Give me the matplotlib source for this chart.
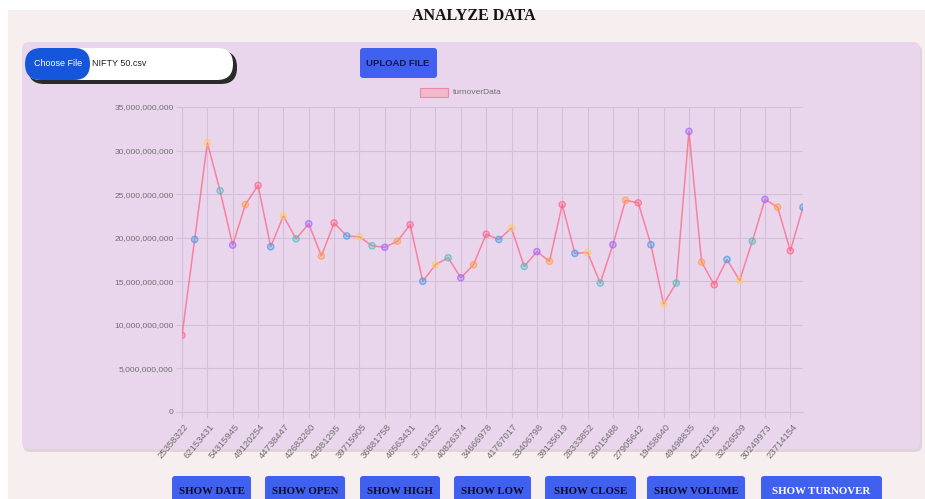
import numpy as np
import matplotlib
matplotlib.use('Agg')
import matplotlib.pyplot as plt
from matplotlib.patches import FancyBboxPatch
from matplotlib.transforms import IdentityTransform, offset_copy
from matplotlib.ticker import FuncFormatter

W, H = 925, 499

# shown x labels (Chart.js skips every other one)
tick_labels = ['25358322', '62153431', '54315945', '49120254', '44738447',
               '42683260', '42981295', '39715905', '36881758', '46563431',
               '37161352', '40826374', '34666978', '41767017', '33406798',
               '39135619', '28333852', '26015488', '27905642', '19458640',
               '49498835', '42276125', '32426509', '30249973', '23714154']

# turnover, in billions
turnover_bn = [8.8, 19.8, 30.9, 25.4, 19.15, 23.8, 26.0, 18.96, 22.5, 19.87,
               21.6, 17.9, 21.7, 20.2, 20.1, 19.07, 18.9, 19.6, 21.5, 15.0,
               16.9, 17.7, 15.4, 16.9, 20.4, 19.8, 21.1, 16.7, 18.4, 17.3,
               23.8, 18.2, 18.3, 14.8, 19.2, 24.3, 24.0, 19.2, 12.4, 14.8,
               32.2, 17.2, 14.6, 17.5, 15.1, 19.6, 24.4, 23.5, 18.5, 23.5]

buttons = ['SHOW DATE', 'SHOW OPEN', 'SHOW HIGH', 'SHOW LOW',
           'SHOW CLOSE', 'SHOW VOLUME', 'SHOW TURNOVER']

palette = [(255, 99, 132), (54, 162, 235), (255, 206, 86),
           (75, 192, 192), (153, 102, 255), (255, 159, 64)]

colors = {
    'page': '#f7eeef', 'panel': '#ead6ec', 'grid': '#d4c0d7',
    'text': '#6e6e6e', 'btn': '#4060f0', 'file_btn': '#1656da',
}

fig = plt.figure(figsize=(W / 100, H / 100), dpi=100)
fig.patch.set_facecolor(colors['page'])


def px_box(x0, y0, x1, y1, color, rad=0, z=-5, alpha=1.0):
    # pixel coords with origin at top-left
    p = FancyBboxPatch((x0, H - y1), x1 - x0, y1 - y0,
                       boxstyle=f'round,pad=0,rounding_size={rad}',
                       transform=IdentityTransform(), facecolor=color,
                       edgecolor='none', zorder=z, alpha=alpha)
    fig.add_artist(p)


def px_text(x, y, s, **kw):
    fig.text(x / W, 1 - y / H, s, **kw)


# ─── page chrome ───
px_box(0, 0, W, 10, 'white', z=-9)
px_box(0, 0, 8, H, 'white', z=-9)
px_text(474, 16, 'ANALYZE DATA', ha='center', va='center', fontsize=11.5,
        fontweight='bold', family='Liberation Serif', color='#111111')

px_box(23, 45, 922, 452, '#dccbd6', rad=7, z=-8, alpha=0.8)
px_box(22, 42, 920, 449, colors['panel'], rad=7, z=-7)

# file input
px_box(28, 51, 237, 84, '#2a2a2a', rad=16, z=-6)
px_box(25, 48, 233, 80, 'white', rad=16, z=-5)
px_box(25, 48, 90, 80, colors['file_btn'], rad=16, z=-4)
px_text(58, 64, 'Choose File', ha='center', va='center', fontsize=6.5,
        family='Liberation Sans', color='white')
px_text(92, 64, 'NIFTY 50.csv', ha='left', va='center', fontsize=6.5,
        family='Liberation Sans', color='#222222')

px_box(360, 48, 437, 78, colors['btn'], rad=3, z=-5)
px_text(398, 63, 'UPLOAD FILE', ha='center', va='center', fontsize=6.8,
        fontweight='bold', family='Liberation Sans', color='#15154f')

# legend
px_box(420, 88, 448, 97, '#f2b9cc', z=-3)
fig.add_artist(FancyBboxPatch((420, H - 97), 28, 9, boxstyle='square,pad=0',
                              transform=IdentityTransform(), facecolor='none',
                              edgecolor='#f08aa4', lw=0.8))
px_text(453, 92.5, 'turnoverData', ha='left', va='center', fontsize=6,
        family='Liberation Sans', color=colors['text'])

# bottom buttons
btn_x = [(172, 251), (265, 345), (360, 440), (454, 531), (545, 636),
         (647, 745), (761, 882)]
for (x0, x1), label in zip(btn_x, buttons):
    px_box(x0, 476, x1, 505, colors['btn'], rad=3, z=-5)
    px_text((x0 + x1) / 2, 491, label, ha='center', va='center', fontsize=7.8,
            fontweight='bold', family='Liberation Serif',
            color='white' if label == 'SHOW TURNOVER' else '#0c0c20')

# ─── chart ───
ax = fig.add_axes([182 / W, 1 - 412 / H, (803 - 182) / W, (412 - 107) / H])
ax.set_facecolor('none')

values = np.array(turnover_bn) * 1e9
x = np.arange(len(values))
ax.plot(x, values, color=(1, 99 / 255, 132 / 255, 0.75), lw=1.1, zorder=3)

face = [tuple(c / 255 for c in palette[i % 6]) + (0.3,) for i in x]
edge = [tuple(c / 255 for c in palette[i % 6]) + (0.7,) for i in x]
ax.scatter(x, values, s=20, facecolors=face, edgecolors=edge, linewidths=1.0,
           zorder=4)

ax.set_xlim(0, len(values) - 1)
ax.set_ylim(0, 35e9)
ax.set_yticks(np.arange(0, 35e9 + 1, 5e9))
ax.yaxis.set_major_formatter(FuncFormatter(lambda v, _: f'{v:,.0f}'))
ax.set_xticks(x[::2])
ax.set_xticklabels(tick_labels, rotation=50, ha='right', va='center',
                   rotation_mode='anchor')

ax.grid(True, color=colors['grid'], lw=0.8)
ax.set_axisbelow(True)
for s in ['top', 'right']:
    ax.spines[s].set_visible(False)
for s in ['left', 'bottom']:
    ax.spines[s].set_color(colors['grid'])
ax.tick_params(axis='both', color=colors['grid'], length=4.5, width=0.8,
               labelcolor=colors['text'], labelsize=6)
ax.tick_params(axis='y', pad=1.5)
ax.tick_params(axis='x', pad=3, labelsize=6.8)
for lab in ax.get_xticklabels() + ax.get_yticklabels():
    lab.set_family('Liberation Sans')
for lab in ax.get_xticklabels():
    lab.set_transform(offset_copy(lab.get_transform(), fig=fig, x=5, y=-3,
                                  units='dots'))

fig.savefig('out.png', dpi=100, facecolor=fig.get_facecolor())
